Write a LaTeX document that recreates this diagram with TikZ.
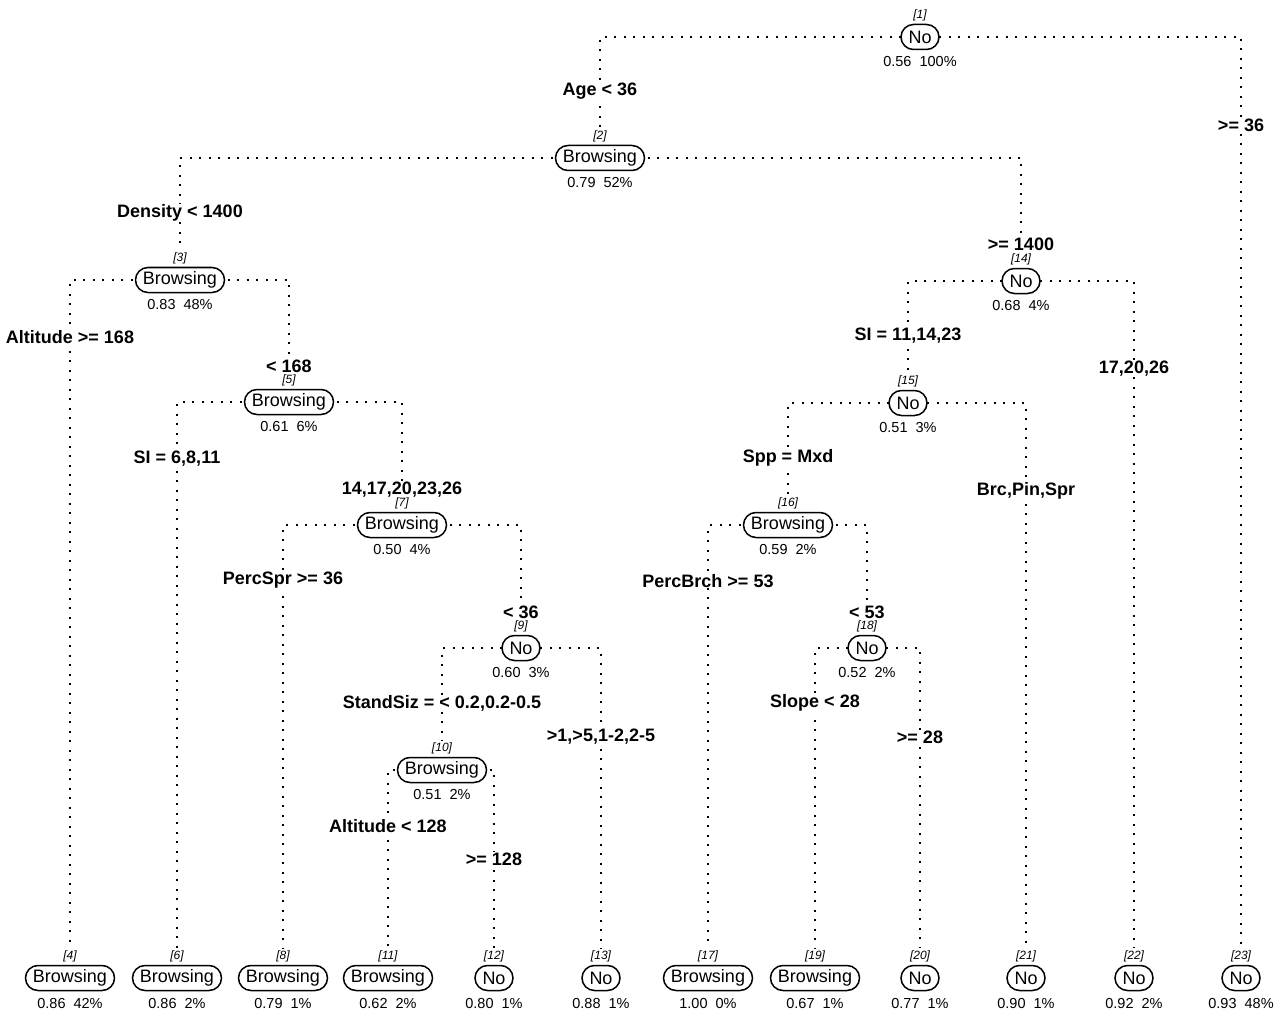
\documentclass[tikz,border=0pt]{standalone}
\usepackage{fontspec}
\setmainfont{Liberation Sans}
\usetikzlibrary{backgrounds}
\begin{document}
\begin{tikzpicture}[x=1pt,y=-1pt,
  nd/.style={draw,line width=1.5pt,rounded corners=12.5pt,minimum height=25pt,inner xsep=7.5pt,inner ysep=0pt,fill=white,font=\fontsize{18}{20}\selectfont},
  idl/.style={inner sep=0pt,font=\fontsize{12}{12}\selectfont\itshape},
  stat/.style={inner sep=0pt,font=\fontsize{14.5}{16}\selectfont},
  lbl/.style={inner sep=0.5pt,fill=white,font=\fontsize{18}{19}\selectfont\bfseries},
  split/.style={line width=1.4pt,dash pattern=on 2pt off 7.5pt}]
\useasboundingbox (0,0) rectangle (1280,1019);
% split labels
\node[lbl] (l2) at (600,91) {Age < 36};
\node[lbl] (l23) at (1241,125) {>= 36};
\node[lbl] (l3) at (180,213) {Density < 1400};
\node[lbl] (l14) at (1021,244) {>= 1400};
\node[lbl] (l4) at (70,337) {Altitude >= 168};
\node[lbl] (l5) at (289,366) {< 168};
\node[lbl] (l6) at (177,459) {SI = 6,8,11};
\node[lbl] (l7) at (402,490) {14,17,20,23,26};
\node[lbl] (l8) at (283,580) {PercSpr >= 36};
\node[lbl] (l9) at (521,612) {< 36};
\node[lbl] (l10) at (442,703) {StandSiz = < 0.2,0.2-0.5};
\node[lbl] (l13) at (601,737) {>1,>5,1-2,2-5};
\node[lbl] (l11) at (388,826) {Altitude < 128};
\node[lbl] (l12) at (494,859) {>= 128};
\node[lbl] (l15) at (908,336) {SI = 11,14,23};
\node[lbl] (l22) at (1134,369) {17,20,26};
\node[lbl] (l16) at (788,458) {Spp = Mxd};
\node[lbl] (l21) at (1026,491) {Brc,Pin,Spr};
\node[lbl] (l17) at (708,581) {PercBrch >= 53};
\node[lbl] (l18) at (867,612) {< 53};
\node[lbl] (l19) at (815,703) {Slope < 28};
\node[lbl] (l20) at (920,737) {>= 28};
\newcommand{\tnode}[5]{%
  \node[nd] (n#1) at (#2,#3) {#4};
  \node[idl] (n#1id) at (#2,#3-22) {[#1]};
  \node[stat] (n#1st) at (#2,#3+25) {#5};}
\tnode{1}{920}{37}{No}{0.56\ \ 100\%}
\tnode{2}{600}{158}{Browsing}{0.79\ \ 52\%}
\tnode{3}{180}{280}{Browsing}{0.83\ \ 48\%}
\tnode{4}{70}{978}{Browsing}{0.86\ \ 42\%}
\tnode{5}{289}{402}{Browsing}{0.61\ \ 6\%}
\tnode{6}{177}{978}{Browsing}{0.86\ \ 2\%}
\tnode{7}{402}{525}{Browsing}{0.50\ \ 4\%}
\tnode{8}{283}{978}{Browsing}{0.79\ \ 1\%}
\tnode{9}{521}{648}{No}{0.60\ \ 3\%}
\tnode{10}{442}{770}{Browsing}{0.51\ \ 2\%}
\tnode{11}{388}{978}{Browsing}{0.62\ \ 2\%}
\tnode{12}{494}{978}{No}{0.80\ \ 1\%}
\tnode{13}{601}{978}{No}{0.88\ \ 1\%}
\tnode{14}{1021}{281}{No}{0.68\ \ 4\%}
\tnode{15}{908}{403}{No}{0.51\ \ 3\%}
\tnode{16}{788}{525}{Browsing}{0.59\ \ 2\%}
\tnode{17}{708}{978}{Browsing}{1.00\ \ 0\%}
\tnode{18}{867}{648}{No}{0.52\ \ 2\%}
\tnode{19}{815}{978}{Browsing}{0.67\ \ 1\%}
\tnode{20}{920}{978}{No}{0.77\ \ 1\%}
\tnode{21}{1026}{978}{No}{0.90\ \ 1\%}
\tnode{22}{1134}{978}{No}{0.92\ \ 2\%}
\tnode{23}{1241}{978}{No}{0.93\ \ 48\%}
\begin{scope}[on background layer]
\foreach \p/\c in {1/2,1/23,2/3,2/14,3/4,3/5,5/6,5/7,7/8,7/9,9/10,9/13,10/11,10/12,14/15,14/22,15/16,15/21,16/17,16/18,18/19,18/20}
  \draw[split] (n\p.center) -| ([yshift=2pt]n\c id.north);
\end{scope}
\end{tikzpicture}
\end{document}
